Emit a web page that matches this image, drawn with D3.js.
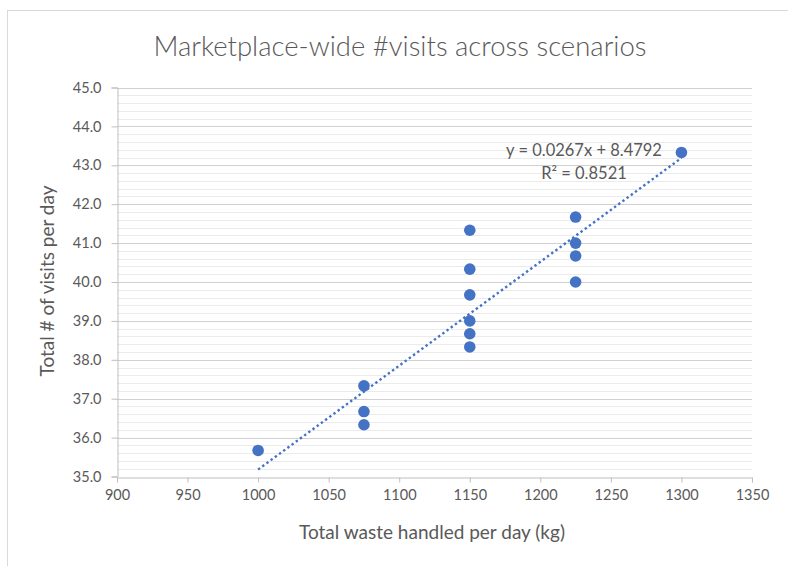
<!DOCTYPE html>
<html>
<head>
<meta charset="utf-8">
<script src="https://cdn.jsdelivr.net/npm/d3@7"></script>
<style>
  html, body { margin: 0; padding: 0; background: #fff; }
  svg { display: block; }
  text { font-family: Lato, "Open Sans", sans-serif; fill: #595959; }
</style>
</head>
<body>
<svg id="chart" width="788" height="566"></svg>
<script>
// Scenario results: waste handled per day (kg) vs total visits per day
const wasteKg = [1000, 1075, 1075, 1075, 1150, 1150, 1150, 1150, 1150, 1150, 1225, 1225, 1225, 1225, 1300];
const visits  = [35.67, 37.33, 36.67, 36.33, 41.33, 40.33, 39.67, 39.0, 38.67, 38.33, 41.67, 41.0, 40.67, 40.0, 43.33];

// Linear trendline as reported
const trendSlope = 0.0267;
const trendIntercept = 8.4792;
const trendR2 = 0.8521;
const trendRange = [1000, 1300];

const xTicks = [900, 950, 1000, 1050, 1100, 1150, 1200, 1250, 1300, 1350];
const yTicks = [35, 36, 37, 38, 39, 40, 41, 42, 43, 44, 45];
const yMinorTicks = d3.range(35, 45.001, 0.2);

const titleText = "Marketplace-wide #visits across scenarios";
const xTitle = "Total waste handled per day (kg)";
const yTitle = "Total # of visits per day";

const svg = d3.select("#chart");
const W = 788, H = 566;
const plot = { left: 117, right: 752, top: 87.5, bottom: 476.5 };

// Chart frame
svg.append("rect")
  .attr("x", 7.5).attr("y", 10.5)
  .attr("width", W + 20).attr("height", H + 20)
  .attr("fill", "#fff").attr("stroke", "#d9d9d9");

const x = d3.scaleLinear().domain([900, 1350]).range([plot.left, plot.right]);
const y = d3.scaleLinear().domain([35, 45]).range([plot.bottom, plot.top]);

// Minor gridlines
svg.append("g")
  .selectAll("line")
  .data(yMinorTicks.filter(v => Math.abs(v - Math.round(v)) > 1e-6))
  .join("line")
  .attr("x1", plot.left).attr("x2", plot.right)
  .attr("y1", d => Math.round(y(d)) + 0.5).attr("y2", d => Math.round(y(d)) + 0.5)
  .attr("stroke", "#ebebeb").attr("stroke-width", 1);

// Major gridlines
svg.append("g")
  .selectAll("line")
  .data(yTicks.slice(1))
  .join("line")
  .attr("x1", plot.left).attr("x2", plot.right)
  .attr("y1", d => Math.round(y(d)) + 0.5).attr("y2", d => Math.round(y(d)) + 0.5)
  .attr("stroke", "#d0d0d0").attr("stroke-width", 1);

// Y axis
const yAxis = svg.append("g")
  .attr("transform", `translate(${plot.left + 0.5},0)`)
  .call(d3.axisLeft(y).tickValues(yTicks).tickFormat(d3.format(".1f")).tickSize(6).tickPadding(10));
yAxis.select(".domain").attr("stroke", "#bfbfbf");
yAxis.selectAll(".tick line").attr("stroke", "#bfbfbf");
yAxis.selectAll("text").attr("font-size", 14.5).attr("fill", "#595959")
  .style("font-family", "Lato, 'Open Sans', sans-serif");

// X axis
const xAxis = svg.append("g")
  .attr("transform", `translate(0,${Math.round(plot.bottom) + 0.5})`)
  .call(d3.axisBottom(x).tickValues(xTicks).tickFormat(d3.format("d")).tickSize(5).tickPadding(7));
xAxis.select(".domain").attr("stroke", "#bfbfbf");
xAxis.selectAll(".tick line").attr("stroke", "#bfbfbf");
xAxis.selectAll("text").attr("font-size", 14.5).attr("fill", "#595959")
  .style("font-family", "Lato, 'Open Sans', sans-serif");

// Trendline (dotted)
svg.append("line")
  .attr("x1", x(trendRange[0])).attr("y1", y(trendSlope * trendRange[0] + trendIntercept))
  .attr("x2", x(trendRange[1])).attr("y2", y(trendSlope * trendRange[1] + trendIntercept))
  .attr("stroke", "#4472C4").attr("stroke-width", 2.4)
  .attr("stroke-dasharray", "2.4,2.8");

// Data points
svg.append("g")
  .selectAll("circle")
  .data(wasteKg.map((w, i) => [w, visits[i]]))
  .join("circle")
  .attr("cx", d => x(d[0])).attr("cy", d => y(d[1]))
  .attr("r", 5.8)
  .attr("fill", "#4472C4");

// Trendline label
const eq = svg.append("text").attr("text-anchor", "middle").attr("font-size", 16.5);
eq.append("tspan").attr("x", 584).attr("y", 156)
  .text(`y = ${trendSlope}x + ${trendIntercept}`);
eq.append("tspan").attr("x", 584).attr("y", 179)
  .text(`R² = ${trendR2}`);

// Title
svg.append("text")
  .attr("x", 400).attr("y", 56)
  .attr("text-anchor", "middle")
  .attr("font-size", 27.5).attr("font-weight", 300)
  .text(titleText);

// Axis titles
svg.append("text")
  .attr("x", 432).attr("y", 539)
  .attr("text-anchor", "middle").attr("font-size", 19)
  .text(xTitle);

svg.append("text")
  .attr("transform", `translate(54,281) rotate(-90)`)
  .attr("text-anchor", "middle").attr("font-size", 19)
  .text(yTitle);
</script>
</body>
</html>
